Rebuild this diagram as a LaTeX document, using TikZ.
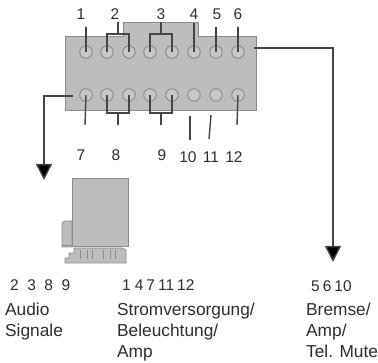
\documentclass[tikz,border=0pt]{standalone}
\usepackage{fontspec}
\setmainfont{Liberation Sans}
\usetikzlibrary{arrows.meta}
\definecolor{boxgray}{HTML}{BDBDBD}
\definecolor{edgegray}{HTML}{8C8C8C}
\definecolor{ink}{HTML}{2E2E2E}
\definecolor{wire}{HTML}{454545}
\tikzset{
  pin/.style={circle,draw=edgegray,line width=1pt,fill=boxgray!85!white,minimum size=12.5pt,inner sep=0pt},
  wirel/.style={draw=wire,line width=1.4pt},
  big/.style={draw=wire,line width=1.4pt,-{Triangle[length=16pt,width=16pt,fill=black]}},
  num/.style={font=\fontsize{15.5}{18}\selectfont,text=ink,inner sep=0pt},
  lab/.style={font=\fontsize{17.3}{21}\selectfont,text=ink,inner sep=0pt,align=left,anchor=north west},
  body/.style={draw=edgegray,line width=1pt,fill=boxgray}
}
\begin{document}
\begin{tikzpicture}[x=1pt,y=-1pt]
\useasboundingbox (0,0) rectangle (378,363);
% main connector outline
\draw[body] (65,37) -- (123,37) -- (123,23) -- (198,23) -- (198,37) -- (256,37) -- (256,111) -- (65,111) -- cycle;
% pins
\foreach \n/\x in {1/86,2/107,3/129,4/150,5/172,6/194,7/216,8/238}{
  \node[pin] (t\n) at (\x,52) {};
  \node[pin] (b\n) at (\x,95) {};
}
% free ends
\coordinate (e1) at (86,27);
\coordinate (s2) at (118,22);
\coordinate (j2) at (118,34);
\coordinate (s3) at (161,22);
\coordinate (j3) at (161,34);
\coordinate (e4) at (194,23);
\coordinate (e5) at (216,27);
\coordinate (e6) at (238,27);
\coordinate (e7) at (85,125);
\coordinate (s8) at (118,125);
\coordinate (j8) at (118,113);
\coordinate (s9) at (161,125);
\coordinate (j9) at (161,113);
\coordinate (e12) at (237,125);
\coordinate (a10) at (190,116);
\coordinate (z10) at (190,140);
\coordinate (a11) at (211,115);
\coordinate (z11) at (209,139);
% top wires
\draw[wirel] (e1) -- (t1.center);
\draw[wirel] (t2.center) |- (j2) -| (t3.center);
\draw[wirel] (s2) -- (j2);
\draw[wirel] (t4.center) |- (j3) -| (t5.center);
\draw[wirel] (s3) -- (j3);
\draw[wirel] (e4) -- (t6.center);
\draw[wirel] (e5) -- (t7.center);
\draw[wirel] (e6) -- (t8.center);
% bottom wires
\draw[wirel] (b1.center) -- (e7);
\draw[wirel] (b2.center) |- (j8) -| (b3.center);
\draw[wirel] (j8) -- (s8);
\draw[wirel] (b4.center) |- (j9) -| (b5.center);
\draw[wirel] (j9) -- (s9);
\draw[wirel] (b8.center) -- (e12);
\draw[wirel] (a10) -- (z10);
\draw[wirel] (a11) -- (z11);
% big arrows
\coordinate (ls) at (73,96);
\coordinate (lc) at (44,96);
\coordinate (lt) at (44,180);
\coordinate (rs) at (254,48);
\coordinate (rc) at (333,48);
\coordinate (rt) at (333,262);
\draw[big] (ls) -- (lc) -- (lt);
\draw[big] (rs) -- (rc) -- (rt);
% top numbers
\node[num] (n1) at (81,14) {1};
\node[num] (n2) at (115,14) {2};
\node[num] (n3) at (161,14) {3};
\node[num] (n4) at (194,14) {4};
\node[num] (n5) at (217,14) {5};
\node[num] (n6) at (238,14) {6};
% bottom numbers
\node[num] (n7) at (81,155) {7};
\node[num] (n8) at (116,155) {8};
\node[num] (n9) at (162,155) {9};
\node[num] (n10) at (188,157) {10};
\node[num] (n11) at (211,157) {11};
\node[num] (n12) at (234,157) {12};
% small plug
\draw[body,line width=.8pt] (72,221) -- (65,221) .. controls (63,221) and (62,223) .. (62,225) -- (62,247) -- (72,247) -- cycle;
\draw[edgegray,line width=.8pt] (62,245) -- (72,245);
\draw[body,line width=.8pt] (74,248) -- (122,248) -- (126,250) -- (126,263) -- (65,263) -- (65,258) -- (69,258) -- (69,253) -- (74,253) -- cycle;
\draw[body,line width=1pt] (72.5,179) rectangle (128.5,247);
\draw[edgegray,line width=.6pt] (80,250) -- (80,259) (87,250) -- (87,259) (92,250) -- (92,259) (103,250) -- (103,259) (110,250) -- (110,259) (115,250) -- (115,259);
% bottom text
\node[num,anchor=west] (g1) at (10,285) {2\hspace{8.5pt}3\hspace{8.5pt}8\hspace{8.5pt}9};
\node[num,anchor=west] (g2) at (122,285) {1\hspace{4pt}4\hspace{3pt}7\hspace{3pt}11\hspace{3pt}12};
\node[num,anchor=west] (g3) at (311,286) {5\hspace{3pt}6\hspace{3pt}10};
\node[lab] (l1) at (5,303) {Audio\\Signale};
\node[lab] (l2) at (117,303) {Stromversorgung/\\Beleuchtung/\\Amp};
\node[lab] (l3) at (306,303) {Bremse/\\Amp/\\Tel. Mute};
\end{tikzpicture}
\end{document}
